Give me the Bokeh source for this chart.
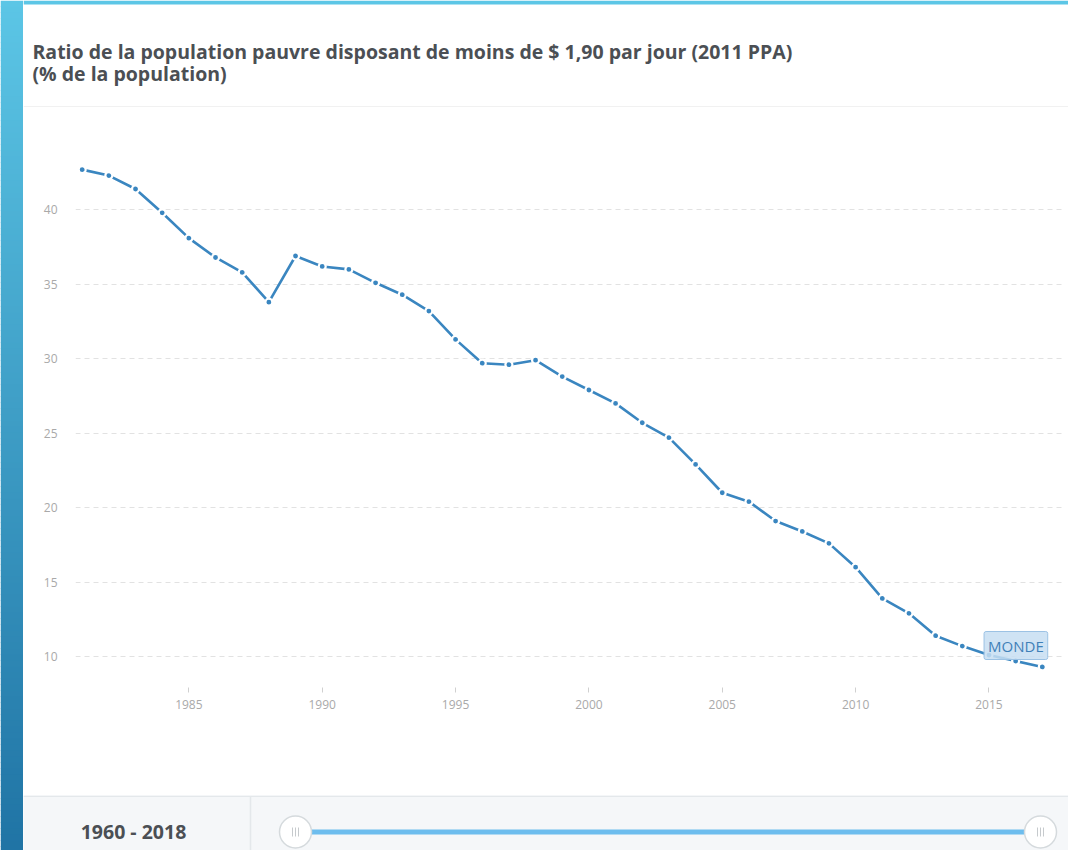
import numpy as np
from bokeh.plotting import figure
from bokeh.models import Range1d, FixedTicker, Label
from bokeh.layouts import row, column
from bokeh.core.properties import value
from bokeh.embed import file_html
from bokeh.resources import INLINE

# ---------------- data ----------------
title_line1 = "Ratio de la population pauvre disposant de moins de $ 1,90 par jour (2011 PPA)"
title_line2 = "(% de la population)"
series_name = "MONDE"
period_label = "1960 - 2018"

years = list(range(1981, 2018))
poverty_pct = [42.7, 42.3, 41.4, 39.8, 38.1, 36.8, 35.8, 33.8, 36.9, 36.2,
               36.0, 35.1, 34.3, 33.2, 31.3, 29.7, 29.6, 29.9, 28.8, 27.9,
               27.0, 25.7, 24.7, 22.9, 21.0, 20.4, 19.1, 18.4, 17.6, 16.0,
               13.9, 12.9, 11.4, 10.7, 10.1, 9.7, 9.3]
x_ticks = [1985, 1990, 1995, 2000, 2005, 2010, 2015]
y_ticks = [10, 15, 20, 25, 30, 35, 40]

FONT = value("Open Sans")
LINE_COLOR = "#3a86c0"
W, H = 1068, 850
SL = 23  # width of the left strip

def deco_fig(w, h, xr, yr, **kw):
    f = figure(width=w, height=h, x_range=Range1d(*xr), y_range=Range1d(*yr),
               min_border=0, x_axis_type=None, y_axis_type=None,
               output_backend="svg", toolbar_location=None, outline_line_color=None,
               frame_align=False, **kw)
    f.grid.visible = False
    return f

# ---------------- left gradient strip ----------------
strip = deco_fig(SL, H, (0, SL), (H, 0))
c_top = np.array([0x5c, 0xc6, 0xe6])
c_bot = np.array([0x20, 0x74, 0xa5])
edges = np.arange(0, H + 6, 6)
tops, bots, cols = [], [], []
for i in range(len(edges) - 1):
    t = edges[i] / float(H)
    c = (c_top * (1 - t) + c_bot * t).astype(int)
    tops.append(edges[i])
    bots.append(edges[i + 1] + 0.5)
    cols.append("#%02x%02x%02x" % tuple(c))
strip.quad(left=0, right=SL, top=tops, bottom=bots, fill_color=cols, line_color=None)

# ---------------- title band ----------------
top = deco_fig(W - SL, 107, (SL, W), (107, 0))
top.quad(left=SL, right=W, top=0, bottom=4, fill_color="#5cc6e6", line_color=None)
top.text(x=[32, 32], y=[51, 72.5], text=[title_line1, title_line2],
         text_font=FONT, text_font_style="bold", text_font_size="19.5px",
         text_color="#4b4f54", text_align="left", text_baseline="middle")
top.segment(x0=SL, y0=106.5, x1=W, y1=106.5, line_color="#e3e3e3", line_width=1.2)

# ---------------- main chart ----------------
p = figure(width=W - SL, height=688,
           x_range=Range1d(1980.75, 2017.87), y_range=Range1d(7.92, 46.0),
           min_border_left=52, min_border_right=3, min_border_top=13, min_border_bottom=108,
           output_backend="svg", toolbar_location=None, outline_line_color=None,
           frame_align=False)
p.xgrid.visible = False
p.ygrid.ticker = FixedTicker(ticks=y_ticks)
p.ygrid.grid_line_color = "#e2e2e2"
p.ygrid.grid_line_dash = "5 4"
p.ygrid.grid_line_width = 1

p.yaxis.ticker = FixedTicker(ticks=y_ticks)
p.yaxis.axis_line_color = None
p.yaxis.major_tick_line_color = None
p.yaxis.minor_tick_line_color = None
p.yaxis.major_label_standoff = 12
p.yaxis.major_label_text_font = "Open Sans"
p.yaxis.major_label_text_font_size = "12px"
p.yaxis.major_label_text_color = "#a9a9a9"

p.xaxis.ticker = FixedTicker(ticks=x_ticks)
p.xaxis.axis_line_color = None
p.xaxis.major_tick_in = 0
p.xaxis.major_tick_out = 5
p.xaxis.major_tick_line_color = "#d0d0d0"
p.xaxis.minor_tick_line_color = None
p.xaxis.major_label_standoff = 7
p.xaxis.major_label_text_font = "Open Sans"
p.xaxis.major_label_text_font_size = "12px"
p.xaxis.major_label_text_color = "#a9a9a9"

p.line(years, poverty_pct, line_color=LINE_COLOR, line_width=2.6)
p.scatter(years, poverty_pct, marker="circle", size=7, fill_color=LINE_COLOR,
          line_color="white", line_width=2.2)

lab = Label(x=2016.01, y=10.74, text=series_name, text_align="center", text_baseline="middle",
            text_font="Open Sans", text_font_size="15px", text_color="#3f80b8",
            background_fill_color="#c7def2", background_fill_alpha=0.85,
            border_line_color="#9cc2e4", border_line_width=1, padding=4, border_radius=2)
p.add_layout(lab)

# ---------------- bottom slider band ----------------
bot = deco_fig(W - SL, 55, (SL, W), (850, 795), background_fill_color="#f5f7f9")
bot.segment(x0=SL, y0=795.7, x1=W, y1=795.7, line_color="#e4e8eb", line_width=1.5)
bot.segment(x0=250, y0=796, x1=250, y1=850, line_color="#e4e8eb", line_width=1.5)
bot.text(x=[133], y=[830.5], text=[period_label], text_font=FONT, text_font_style="bold",
         text_font_size="19.5px", text_color="#4b4f54", text_align="center",
         text_baseline="middle")
bot.segment(x0=295, y0=831.5, x1=1040, y1=831.5, line_color="#6dbdee", line_width=5)
bot.scatter([295, 1040], [831.5, 831.5], marker="circle", size=32, fill_color="white",
            line_color="#d5dadd", line_width=1.5)
hx = [295 - 3, 295, 295 + 3, 1040 - 3, 1040, 1040 + 3]
bot.segment(x0=hx, y0=[827] * 6, x1=hx, y1=[836] * 6, line_color="#c6cacd", line_width=1)

layout = row(strip, column(top, p, bot, spacing=0), spacing=0)

open("out.html", "w").write(file_html(layout, INLINE))
